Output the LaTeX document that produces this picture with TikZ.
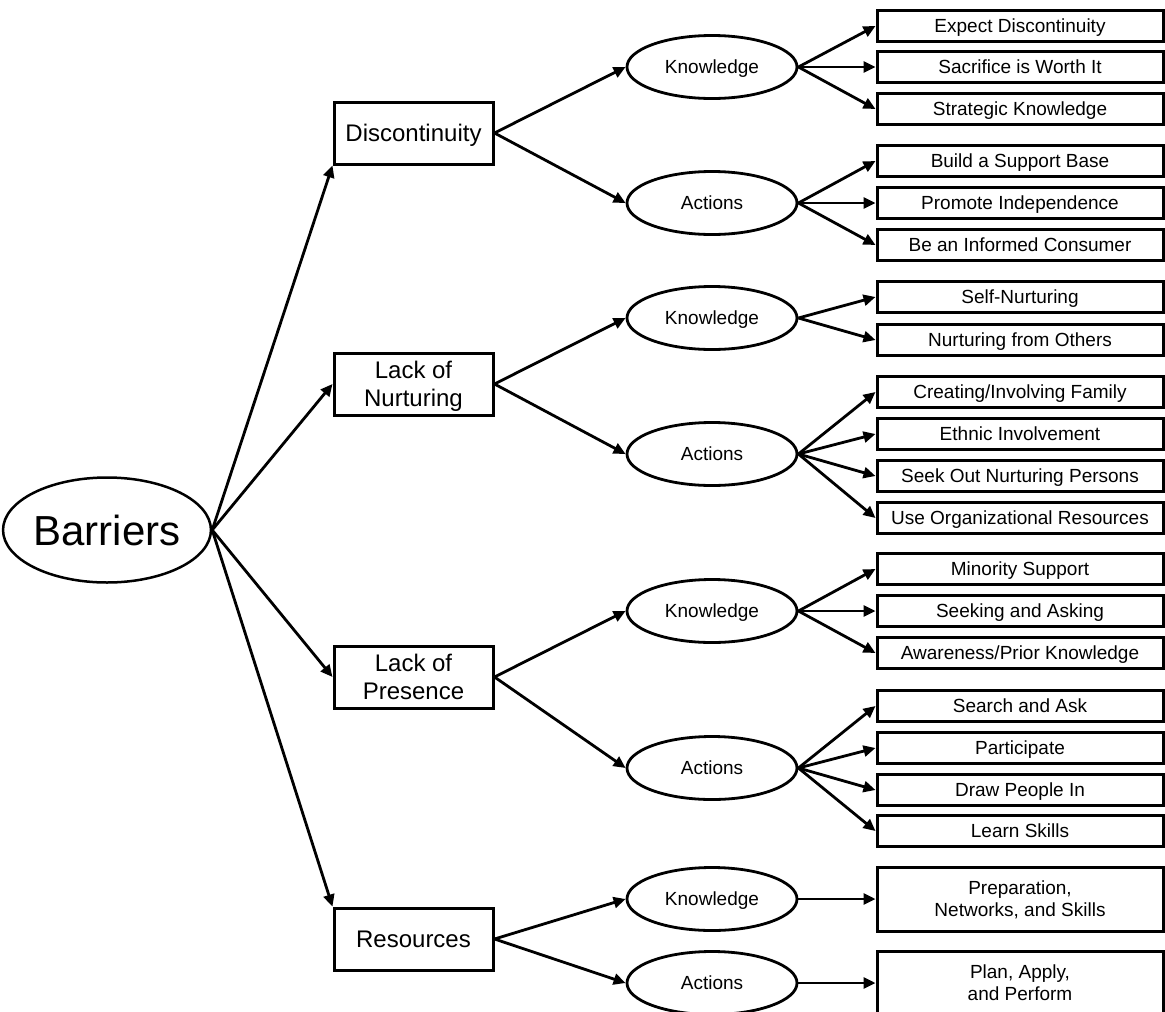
\documentclass[tikz,border=0pt]{standalone}
\usepackage{fontspec}
\setmainfont{Liberation Sans}
\usetikzlibrary{shapes.geometric,arrows.meta}

\tikzset{
  root/.style={draw, ellipse, line width=2.5pt, inner sep=0pt, minimum width=198pt, minimum height=105pt, text height=30pt, text depth=0pt, font=\fontsize{42}{46}\selectfont},
  barrier/.style={draw, rectangle, line width=3pt, inner sep=2pt, minimum width=159pt, minimum height=62pt, align=center, text height=17pt, text depth=0pt, font=\fontsize{24}{28}\selectfont},
  twolines/.style={text height=45pt},
  branch/.style={draw, ellipse, line width=2.8pt, inner sep=0pt, minimum width=170pt, minimum height=63pt, text height=13.6pt, text depth=0pt, font=\fontsize{19}{22}\selectfont},
  leaf/.style={draw, rectangle, line width=3pt, inner sep=2pt, minimum width=286pt, minimum height=31pt, align=center, text height=13.6pt, text depth=0pt, font=\fontsize{19}{22}\selectfont},
  bigleaf/.style={leaf, minimum height=64pt, text height=35.6pt},
  link/.style={line width=2.8pt, -{Triangle[length=12pt,width=11pt]}}
}

\begin{document}
\begin{tikzpicture}[x=1pt,y=-1pt]
    \useasboundingbox (0,0) rectangle (1165,1012);
    \node [root] (barriers) at (107,530) {Barriers};
    % barriers
    \node [barrier] (disc) at (413.5,133) {Discontinuity};
    \node [barrier, twolines] (nurt) at (413.5,384) {Lack of\\Nurturing};
    \node [barrier, twolines] (pres) at (413.5,677) {Lack of\\Presence};
    \node [barrier] (res) at (413.5,939) {Resources};
    % knowledge and actions
    \node [branch] (k1) at (712,67) {Knowledge};
    \node [branch] (a1) at (712,203) {Actions};
    \node [branch] (k2) at (712,318) {Knowledge};
    \node [branch] (a2) at (712,454) {Actions};
    \node [branch] (k3) at (712,611) {Knowledge};
    \node [branch] (a3) at (712,768) {Actions};
    \node [branch] (k4) at (712,899) {Knowledge};
    \node [branch] (a4) at (712,983) {Actions};
    % leaves
    \node [leaf] (l1) at (1020,26) {Expect Discontinuity};
    \node [leaf] (l2) at (1020,67) {Sacrifice is Worth It};
    \node [leaf] (l3) at (1020,109) {Strategic Knowledge};
    \node [leaf] (l4) at (1020,161) {Build a Support Base};
    \node [leaf] (l5) at (1020,203) {Promote Independence};
    \node [leaf] (l6) at (1020,245) {Be an Informed Consumer};
    \node [leaf] (l7) at (1020,297) {Self-Nurturing};
    \node [leaf] (l8) at (1020,340) {Nurturing from Others};
    \node [leaf] (l9) at (1020,392) {Creating/Involving Family};
    \node [leaf] (l10) at (1020,434) {Ethnic Involvement};
    \node [leaf] (l11) at (1020,476) {Seek Out Nurturing Persons};
    \node [leaf] (l12) at (1020,518) {Use Organizational Resources};
    \node [leaf] (l13) at (1020,569) {Minority Support};
    \node [leaf] (l14) at (1020,611) {Seeking and Asking};
    \node [leaf] (l15) at (1020,653) {Awareness/Prior Knowledge};
    \node [leaf] (l16) at (1020,706) {Search and Ask};
    \node [leaf] (l17) at (1020,748) {Participate};
    \node [leaf] (l18) at (1020,790) {Draw People In};
    \node [leaf] (l19) at (1020,831) {Learn Skills};
    \node [bigleaf] (l20) at (1020,899) {Preparation,\\Networks, and Skills};
    \node [bigleaf] (l21) at (1020,983) {Plan, Apply,\\and Perform};
    % arrows
    \draw [link] (barriers.east) -- (disc.south west);
    \draw [link] (barriers.east) -- (nurt.west);
    \draw [link] (barriers.east) -- (pres.west);
    \draw [link] (barriers.east) -- (res.north west);
    \foreach \c/\k/\a in {disc/k1/a1, nurt/k2/a2, pres/k3/a3, res/k4/a4} {
      \draw [link] (\c.east) -- (\k.west);
      \draw [link] (\c.east) -- (\a.west);
    }
    \foreach \p/\l in {k1/l1, k1/l2, k1/l3, a1/l4, a1/l5, a1/l6, k2/l7, k2/l8,
                       a2/l9, a2/l10, a2/l11, a2/l12, k3/l13, k3/l14, k3/l15,
                       a3/l16, a3/l17, a3/l18, a3/l19, k4/l20, a4/l21}
      \draw [link] (\p.east) -- (\l.west);
\end{tikzpicture}
\end{document}
